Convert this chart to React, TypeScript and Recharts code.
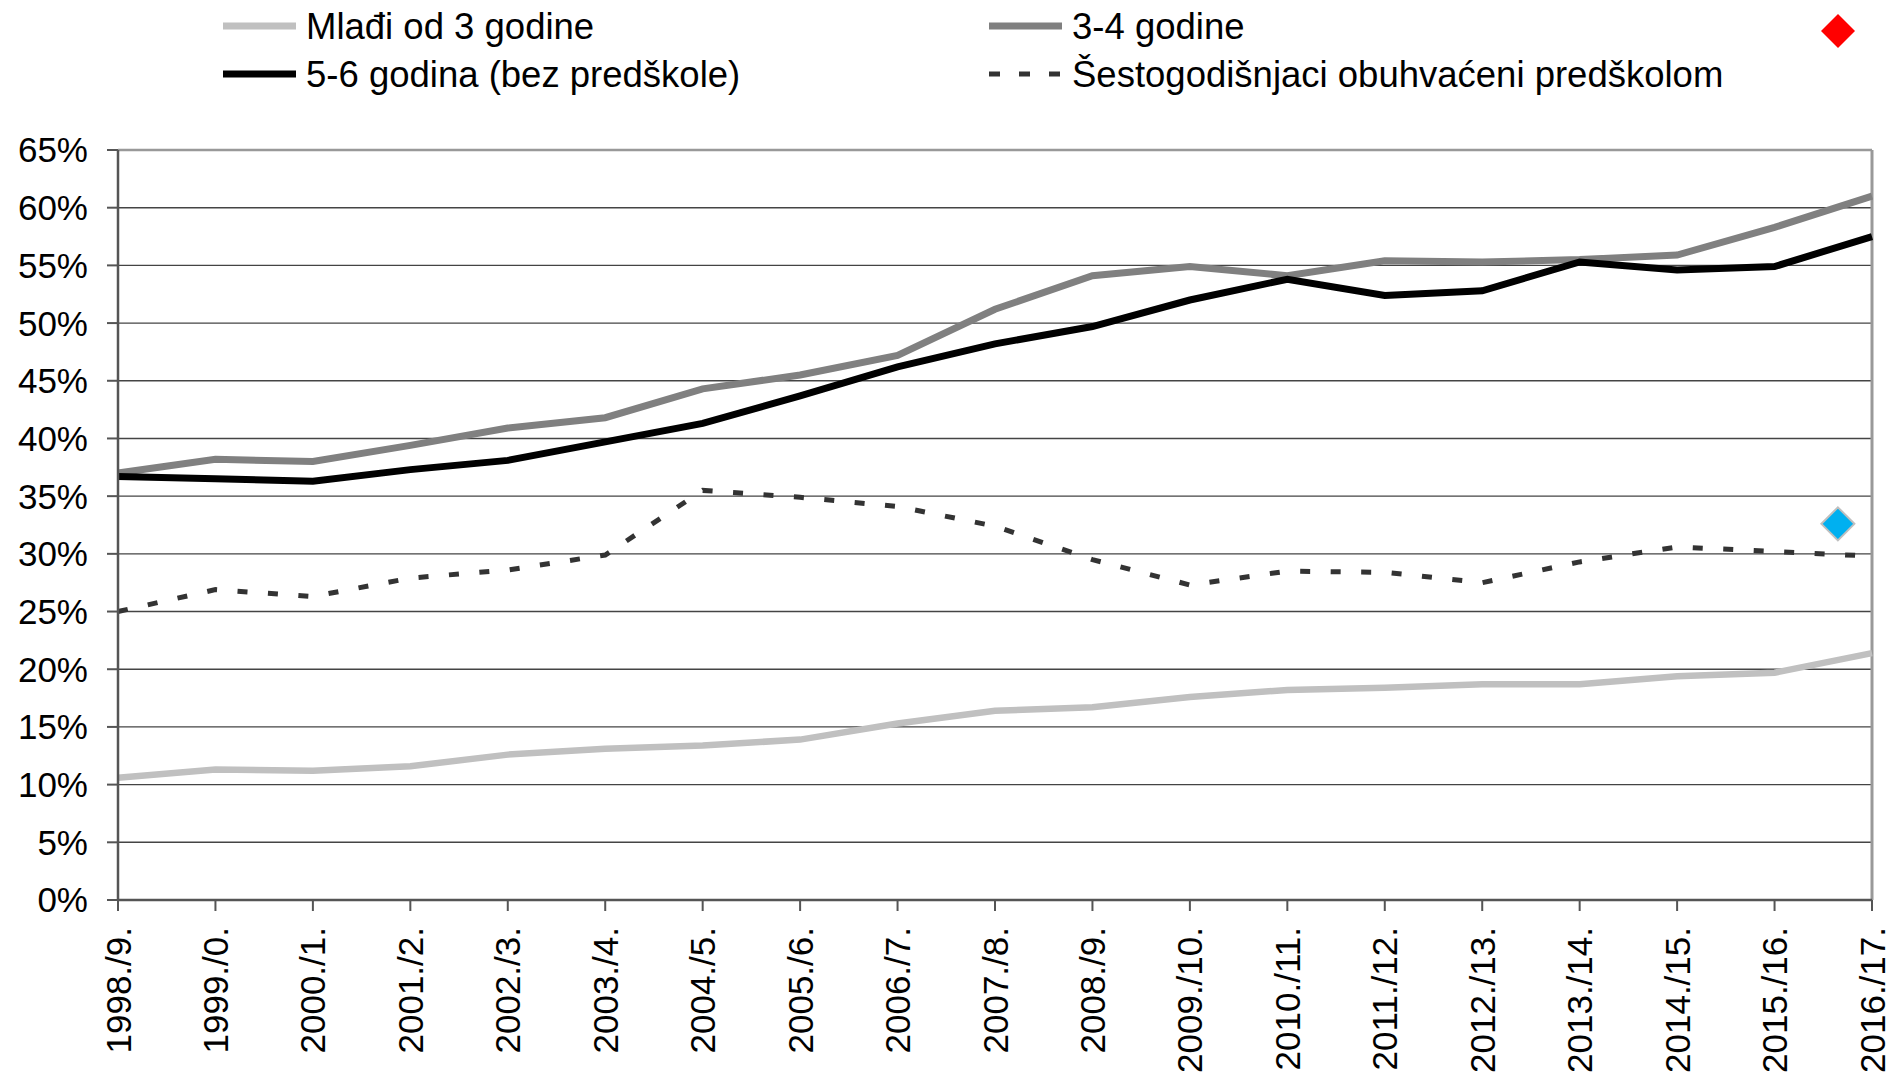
import { ComposedChart, Line, Scatter, XAxis, YAxis, CartesianGrid, ReferenceLine } from 'recharts';

const years = [
  '1998./9.', '1999./0.', '2000./1.', '2001./2.', '2002./3.', '2003./4.', '2004./5.',
  '2005./6.', '2006./7.', '2007./8.', '2008./9.', '2009./10.', '2010./11.', '2011./12.',
  '2012./13.', '2013./14.', '2014./15.', '2015./16.', '2016./17.',
];

const under3 = [10.6, 11.3, 11.2, 11.6, 12.6, 13.1, 13.4, 13.9, 15.3, 16.4, 16.7, 17.6, 18.2, 18.4, 18.7, 18.7, 19.4, 19.7, 21.4];
const age34 = [37.0, 38.2, 38.0, 39.4, 40.9, 41.8, 44.3, 45.5, 47.2, 51.2, 54.1, 54.9, 54.1, 55.4, 55.3, 55.5, 55.9, 58.3, 61.0];
const age56 = [36.7, 36.5, 36.3, 37.3, 38.1, 39.7, 41.3, 43.7, 46.2, 48.2, 49.7, 52.0, 53.8, 52.4, 52.8, 55.3, 54.6, 54.9, 57.5];
const sixPre = [25.0, 26.9, 26.3, 27.9, 28.6, 29.9, 35.5, 34.9, 34.1, 32.4, 29.5, 27.3, 28.5, 28.4, 27.5, 29.3, 30.6, 30.2, 29.8];

// single extra point, sits between the last two years
const extraPoint = [{ i: 17.65, v: 32.6 }];

const yTicks = [0, 5, 10, 15, 20, 25, 30, 35, 40, 45, 50, 55, 60, 65];

const data = years.map((name, i) => ({
  i,
  name,
  under3: under3[i],
  age34: age34[i],
  age56: age56[i],
  sixPre: sixPre[i],
}));

const FONT = '"Liberation Sans", Arial, sans-serif';

const XTick = ({ x, y, payload }: any) => (
  <g transform={`translate(${x},${y})`}>
    <text
      transform="rotate(-90)"
      textAnchor="end"
      dy="0.36em"
      fontSize={35}
      fontFamily={FONT}
      fill="#000"
    >
      {years[payload.value]}
    </text>
  </g>
);

const Diamond = ({ cx, cy }: any) => {
  const h = 16.5;
  return (
    <polygon
      points={`${cx},${cy - h} ${cx + h},${cy} ${cx},${cy + h} ${cx - h},${cy}`}
      fill="#00B0F0"
      stroke="#BFBFBF"
      strokeWidth={2}
    />
  );
};

function LegendOverlay() {
  const items = [
    { label: 'Mlađi od 3 godine', x: 223, y: 26, color: '#C0C0C0', dash: undefined, w: 7 },
    { label: '3-4 godine', x: 989, y: 26, color: '#808080', dash: undefined, w: 7 },
    { label: '5-6 godina (bez predškole)', x: 223, y: 74, color: '#000000', dash: undefined, w: 7 },
    { label: 'Šestogodišnjaci obuhvaćeni predškolom', x: 989, y: 74, color: '#333333', dash: '11 19', w: 5 },
  ];
  return (
    <svg width={1892} height={110} style={{ position: 'absolute', left: 0, top: 0 }}>
      {items.map((it) => (
        <g key={it.label}>
          <line
            x1={it.x}
            x2={it.x + 73}
            y1={it.y}
            y2={it.y}
            stroke={it.color}
            strokeWidth={it.w}
            strokeDasharray={it.dash}
          />
          <text x={it.x + 83} y={it.y + 13} fontSize={36.5} fontFamily={FONT} fill="#000">
            {it.label}
          </text>
        </g>
      ))}
      <polygon points="1838,14 1855,31 1838,48 1821,31" fill="#FF0000" />
    </svg>
  );
}

export default function App() {
  return (
    <div style={{ position: 'absolute', left: 0, top: 0, width: 1892, height: 1076, background: '#fff' }}>
      <ComposedChart
        width={1892}
        height={1076}
        data={data}
        margin={{ top: 150, right: 20, bottom: 0, left: 0 }}
      >
        <CartesianGrid vertical={false} stroke="#444" strokeWidth={1.4} />
        <XAxis
          dataKey="i"
          type="number"
          domain={[0, 18]}
          ticks={years.map((_, i) => i)}
          interval={0}
          height={176}
          tickSize={11}
          tickMargin={16}
          tick={<XTick />}
          axisLine={{ stroke: '#555', strokeWidth: 2.5 }}
          tickLine={{ stroke: '#555', strokeWidth: 2 }}
        />
        <YAxis
          type="number"
          domain={[0, 65]}
          ticks={yTicks}
          interval={0}
          width={118}
          tickSize={11}
          tickMargin={19}
          tickFormatter={(v: number) => `${v}%`}
          tick={{ fontSize: 35, fontFamily: FONT, fill: '#000' }}
          axisLine={{ stroke: '#555', strokeWidth: 2.5 }}
          tickLine={{ stroke: '#555', strokeWidth: 2 }}
        />
        <ReferenceLine y={65} stroke="#999" strokeWidth={2.5} />
        <ReferenceLine x={18} stroke="#999" strokeWidth={3} />
        <Line
          dataKey="under3"
          type="linear"
          stroke="#C0C0C0"
          strokeWidth={6.5}
          dot={false}
          isAnimationActive={false}
        />
        <Line
          dataKey="age34"
          type="linear"
          stroke="#808080"
          strokeWidth={7}
          dot={false}
          isAnimationActive={false}
        />
        <Line
          dataKey="age56"
          type="linear"
          stroke="#000000"
          strokeWidth={7}
          dot={false}
          isAnimationActive={false}
        />
        <Line
          dataKey="sixPre"
          type="linear"
          stroke="#333333"
          strokeWidth={5}
          strokeDasharray="10 20.5"
          dot={false}
          isAnimationActive={false}
        />
        <Scatter data={extraPoint} dataKey="v" shape={<Diamond />} isAnimationActive={false} />
      </ComposedChart>
      <LegendOverlay />
    </div>
  );
}
